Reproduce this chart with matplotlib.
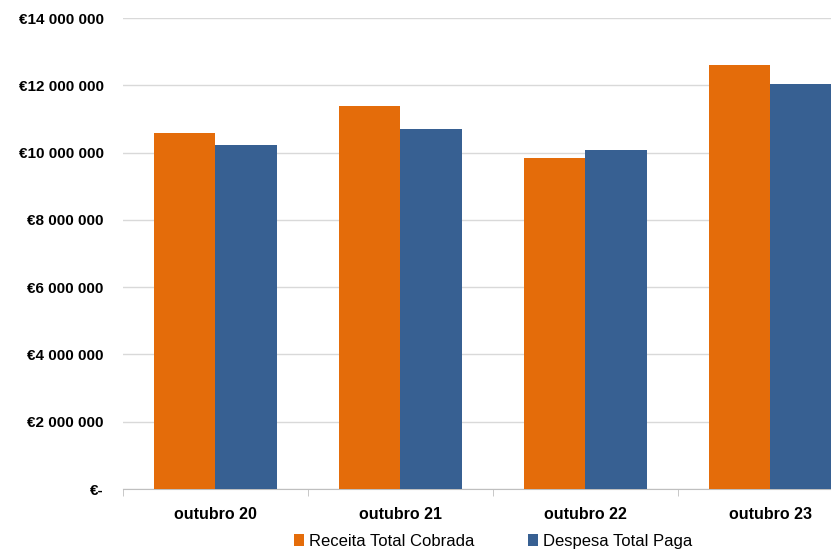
import matplotlib
matplotlib.use("Agg")
import matplotlib.pyplot as plt
import numpy as np

plt.rcParams['font.family'] = ['Liberation Sans', 'DejaVu Sans']

# dados
categorias = ['outubro 20', 'outubro 21', 'outubro 22', 'outubro 23']
receita = [10580000, 11390000, 9850000, 12600000]
despesa = [10230000, 10690000, 10080000, 12030000]
yticks = [0, 2000000, 4000000, 6000000, 8000000, 10000000, 12000000, 14000000]
ytick_labels = ['€-', '€2 000 000', '€4 000 000', '€6 000 000', '€8 000 000',
                '€10 000 000', '€12 000 000', '€14 000 000']

cor_receita = '#E46C0A'
cor_despesa = '#376092'

fig = plt.figure(figsize=(8.31, 5.54), dpi=100)
ax = fig.add_axes([0.148, 0.1173, 0.8905, 0.850])

x = np.arange(len(categorias))
w = 0.335
ax.bar(x - w / 2, receita, w, color=cor_receita, label='Receita Total Cobrada', zorder=3)
ax.bar(x + w / 2, despesa, w, color=cor_despesa, label='Despesa Total Paga', zorder=3)

ax.set_xlim(-0.5, len(categorias) - 0.5)
ax.set_ylim(0, 14000000)
ax.set_yticks(yticks)
ax.set_yticklabels(ytick_labels, fontsize=11, fontweight='bold')
ax.tick_params(axis='y', length=0, pad=14)
ax.grid(axis='y', color='#D9D9D9', linewidth=1, zorder=0)

# rótulos das categorias e marcas nas divisões
ax.set_xticks(x)
ax.set_xticklabels(categorias, fontsize=11.5, fontweight='bold')
ax.tick_params(axis='x', which='major', length=0, pad=13)
ax.set_xticks(np.arange(len(categorias) + 1) - 0.5, minor=True)
ax.tick_params(axis='x', which='minor', length=5, color='#BFBFBF')

for s in ['top', 'right', 'left']:
    ax.spines[s].set_visible(False)
ax.spines['bottom'].set_color('#BFBFBF')

fig.legend(loc='lower center', bbox_to_anchor=(0.593, -0.018), ncol=2, frameon=False,
           fontsize=12, handlelength=0.6, handleheight=0.7, handletextpad=0.3,
           columnspacing=3.2)

plt.savefig('out.png', dpi=100)
